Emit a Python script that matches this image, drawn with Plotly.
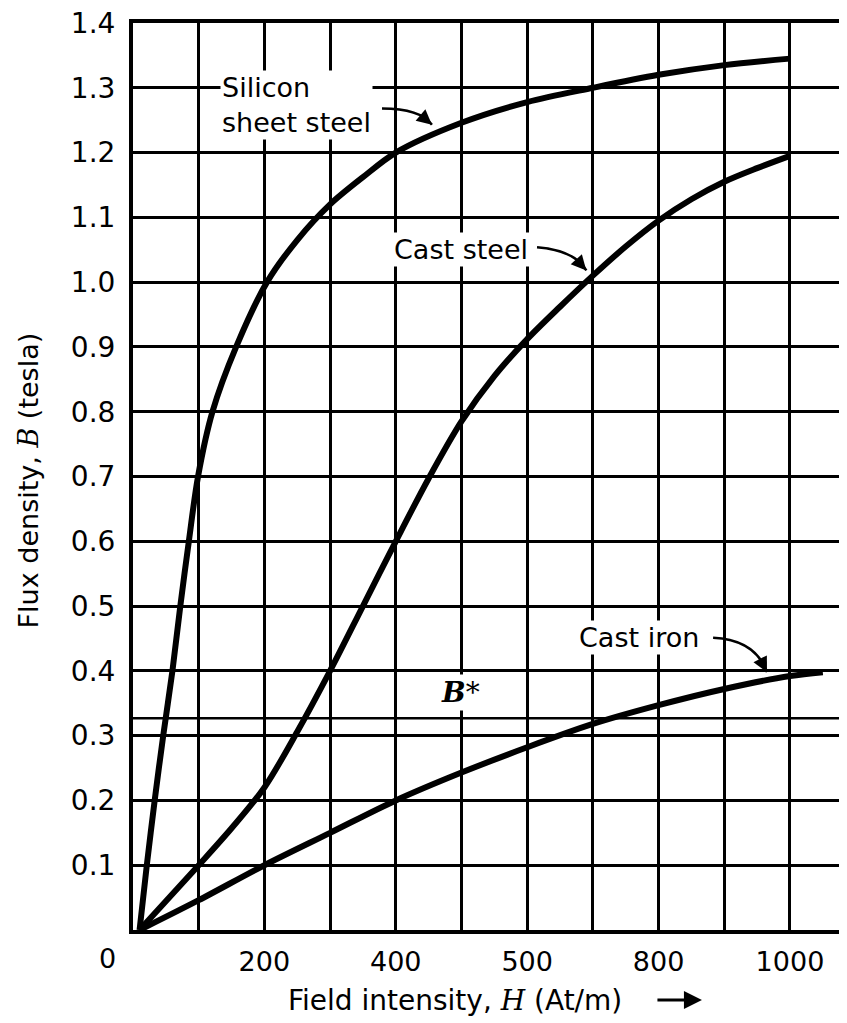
import plotly.graph_objects as go

# ---- data ----
silicon_H = [10, 21, 33, 46, 60, 72, 85, 99, 121, 157, 204, 250, 300, 350, 400, 500, 600, 700, 800, 900, 1000]
silicon_B = [0, 0.1, 0.2, 0.3, 0.4, 0.5, 0.6, 0.7, 0.8, 0.9, 1.0, 1.065, 1.12, 1.162, 1.2, 1.246, 1.278, 1.30, 1.32, 1.335, 1.345]

caststeel_H = [10, 100, 150, 200, 250, 300, 350, 400, 450, 500, 550, 600, 650, 700, 750, 800, 850, 900, 950, 1000]
caststeel_B = [0, 0.1, 0.157, 0.22, 0.306, 0.4, 0.5, 0.6, 0.697, 0.785, 0.855, 0.912, 0.962, 1.01, 1.055, 1.095, 1.128, 1.155, 1.176, 1.195]

castiron_H = [10, 100, 200, 300, 400, 500, 600, 700, 800, 900, 1000, 1050]
castiron_B = [0, 0.046, 0.1, 0.15, 0.2, 0.243, 0.282, 0.318, 0.347, 0.372, 0.392, 0.398]

B_star = 0.327

x_tickvals = [100, 200, 300, 400, 500, 600, 700, 800, 900, 1000]
x_ticktext = ["", "200", "", "400", "", "500", "", "800", "", "1000"]
y_tickvals = [0.1, 0.2, 0.3, 0.4, 0.5, 0.6, 0.7, 0.8, 0.9, 1.0, 1.1, 1.2, 1.3, 1.4]
y_ticktext = ["0.1", "0.2", "0.3", "0.4", "0.5", "0.6", "0.7", "0.8", "0.9", "1.0", "1.1", "1.2", "1.3", "1.4"]

FONT = "DejaVu Sans"
SERIF = "DejaVu Serif"

fig = go.Figure()
for H, B, name in [(silicon_H, silicon_B, "Silicon sheet steel"),
                   (caststeel_H, caststeel_B, "Cast steel"),
                   (castiron_H, castiron_B, "Cast iron")]:
    fig.add_trace(go.Scatter(x=H, y=B, mode="lines", name=name,
                             line=dict(color="black", width=6, shape="spline", smoothing=0.9),
                             showlegend=False, hoverinfo="skip"))

# B* horizontal line
fig.add_shape(type="line", xref="paper", yref="y", x0=0, x1=1, y0=B_star, y1=B_star,
              line=dict(color="black", width=2.5), layer="below")

fig.update_xaxes(range=[0, 1099], tickvals=x_tickvals, ticktext=x_ticktext,
                 showgrid=True, gridcolor="black", gridwidth=2.5,
                 showline=True, linecolor="black", linewidth=4, mirror=True,
                 ticks="", zeroline=False, ticklabelstandoff=5,
                 ticklabeloverflow="allow",
                 tickfont=dict(family=FONT, size=27, color="black"))
fig.update_yaxes(range=[0, 1.4], tickvals=y_tickvals, ticktext=y_ticktext,
                 showgrid=True, gridcolor="black", gridwidth=2.5,
                 showline=True, linecolor="black", linewidth=4,
                 ticks="", zeroline=False, ticklabelstandoff=8,
                 ticklabeloverflow="allow",
                 tickfont=dict(family=FONT, size=28, color="black"))

def curved_arrow(x0, y0, cx, cy, x1, y1, hx, hy):
    fig.add_shape(type="path", xref="x", yref="y",
                  path=f"M {x0},{y0} Q {cx},{cy} {x1},{y1}",
                  line=dict(color="black", width=2.5))
    fig.add_annotation(x=x1, y=y1, ax=hx, ay=hy, axref="x", ayref="y", xref="x", yref="y",
                       text="", showarrow=True, arrowhead=2, arrowsize=1.2,
                       arrowwidth=2.5, arrowcolor="black")

labels = [
    dict(x=132, y=1.274, text="Silicon<br>sheet steel"),
    dict(x=394, y=1.05, text="Cast steel"),
    dict(x=676, y=0.451, text="Cast iron"),
]
for lab in labels:
    fig.add_annotation(x=lab["x"], y=lab["y"], xref="x", yref="y", text=lab["text"],
                       showarrow=False, xanchor="left", yanchor="middle", align="left",
                       bgcolor="white", borderpad=1,
                       font=dict(family=FONT, size=27, color="black"))

curved_arrow(379, 1.268, 437, 1.268, 455, 1.243, 440, 1.256)
curved_arrow(615, 1.054, 673, 1.049, 690, 1.018, 675, 1.035)
curved_arrow(883, 0.451, 947, 0.448, 965, 0.398, 955, 0.418)

fig.add_annotation(x=498, y=0.367, xref="x", yref="y",
                   text="<b><i>B</i></b>*", showarrow=False, bgcolor="white",
                   font=dict(family=SERIF, size=28, color="black"))

# origin label
fig.add_annotation(x=0, y=0, xref="x", yref="y", text="0", showarrow=False,
                   xshift=-26, yshift=-28, font=dict(family=FONT, size=27, color="black"))

# axis titles
fig.add_annotation(x=-0.145, y=0.496, xref="paper", yref="paper", textangle=-90,
                   xanchor="center", yanchor="middle",
                   text="Flux density, <span style='font-family:DejaVu Serif'><i>B</i></span> (tesla)",
                   showarrow=False, font=dict(family=FONT, size=27, color="black"))
fig.add_annotation(x=0.446, y=-0.0772, xref="paper", yref="paper",
                   xanchor="center", yanchor="middle",
                   text="Field intensity, <span style='font-family:DejaVu Serif'><i>H</i></span> (At/m)",
                   showarrow=False, font=dict(family=FONT, size=28, color="black"))
# small right-pointing arrow after the x title
fig.add_annotation(x=0.788, y=-0.0772, xref="paper", yref="paper", ax=-46, ay=0,
                   text="", showarrow=True, arrowhead=2, arrowsize=1.2,
                   arrowwidth=3, arrowcolor="black")

fig.update_layout(width=847, height=1023,
                  margin=dict(l=125, r=0, t=15, b=101),
                  plot_bgcolor="white", paper_bgcolor="white")

fig.write_html("out.html")
